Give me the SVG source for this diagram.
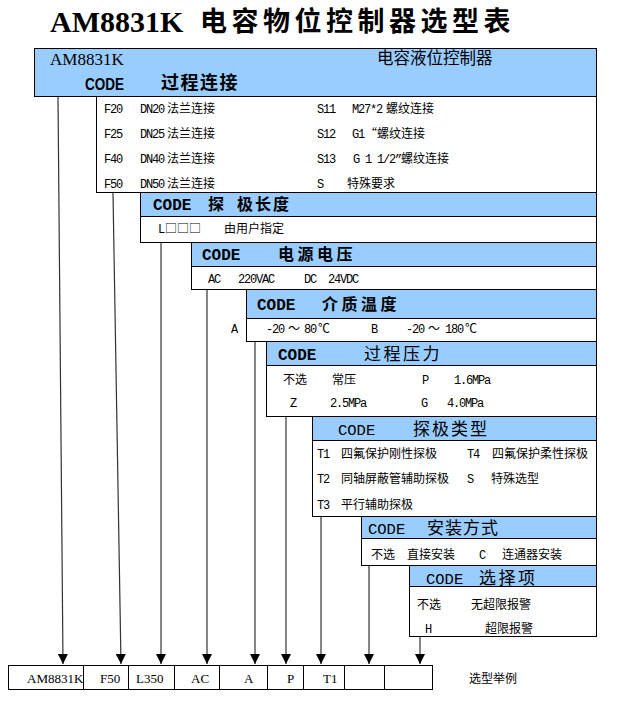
<svg xmlns="http://www.w3.org/2000/svg" width="622" height="711" viewBox="0 0 622 711">
<defs>
<style>
.hdr{fill:#99CCFF;stroke:#000;stroke-width:1}
.opt{fill:#fff;stroke:#000;stroke-width:1}
.m{font-family:"Liberation Mono",monospace;font-size:12px;letter-spacing:-1.2px;fill:#000}
.c{font-family:"Noto Sans CJK SC",sans-serif;font-size:12px;fill:#000}
.cb{font-family:"Noto Sans CJK SC",sans-serif;font-size:16px;font-weight:bold;fill:#000}
.cn{font-family:"Noto Sans CJK SC",sans-serif;font-size:17px;fill:#000}
.code{font-family:"Liberation Mono",monospace;font-size:16px;font-weight:bold;fill:#000}
.coden{font-family:"Liberation Mono",monospace;font-size:15.5px;fill:#000}
.s{font-family:"Liberation Serif",serif;font-size:13px;fill:#000}
.ln{stroke:#333;stroke-width:1.2;fill:none;marker-end:url(#ah)}
.cell{fill:#fff;stroke:#000;stroke-width:1}
</style>
<marker id="ah" markerUnits="userSpaceOnUse" markerWidth="10" markerHeight="10" refX="10" refY="5" orient="auto">
<path d="M0,0 L10,5 L0,10 z" fill="#000"/>
</marker>
</defs>
<rect width="622" height="711" fill="#fff"/>

<g id="title">
<text x="50" y="32" font-family="Liberation Serif,serif" font-size="30" font-weight="bold">AM8831K</text>
<text x="200" y="31" font-family="Noto Sans CJK SC,sans-serif" font-size="27" font-weight="bold" letter-spacing="4.5">电容物位控制器选型表</text>
</g>

<g id="connectors">
<line class="ln" x1="58" y1="97" x2="63" y2="664"/>
<line class="ln" x1="113" y1="193" x2="121" y2="664"/>
<line class="ln" x1="161" y1="243" x2="161" y2="664"/>
<line class="ln" x1="207" y1="290" x2="207" y2="664"/>
<line class="ln" x1="255" y1="342" x2="255" y2="664"/>
<line class="ln" x1="286" y1="417" x2="286" y2="664"/>
<line class="ln" x1="321" y1="517" x2="321" y2="664"/>
<line class="ln" x1="369" y1="566" x2="369" y2="664"/>
<line class="ln" x1="420" y1="637" x2="420" y2="664"/>
</g>

<g id="box1">
<rect class="hdr" x="34.5" y="48.5" width="562" height="48"/>
<text x="50" y="65" font-family="Liberation Serif,serif" font-size="17">AM8831K</text>
<text x="377" y="64" font-family="Noto Sans CJK SC,sans-serif" font-size="16.5">电容液位控制器</text>
<text x="85" y="90" font-family="Liberation Sans,sans-serif" font-size="17" font-weight="bold" textLength="39" lengthAdjust="spacingAndGlyphs">CODE</text>
<text x="161" y="89" font-family="Noto Sans CJK SC,sans-serif" font-size="18" font-weight="bold" letter-spacing="1.5">过程连接</text>
<rect class="opt" x="96.5" y="96.5" width="500" height="96"/>
<text class="m" x="104" y="113">F20</text><text class="m" x="140" y="113">DN20</text><text class="c" x="167" y="113">法兰连接</text>
<text class="m" x="104" y="138">F25</text><text class="m" x="140" y="138">DN25</text><text class="c" x="167" y="138">法兰连接</text>
<text class="m" x="104" y="163">F40</text><text class="m" x="140" y="163">DN40</text><text class="c" x="167" y="163">法兰连接</text>
<text class="m" x="104" y="188">F50</text><text class="m" x="140" y="188">DN50</text><text class="c" x="167" y="188">法兰连接</text>
<text class="m" x="317" y="113">S11</text><text class="m" x="352" y="113">M27*2</text><text class="c" x="386" y="113">螺纹连接</text>
<text class="m" x="317" y="138">S12</text><text class="m" x="352" y="138">G1</text><text class="c" x="365" y="138">“螺纹连接</text>
<text class="m" x="317" y="163">S13</text><text class="m" x="353" y="163">G 1 1/2”</text><text class="c" x="401" y="163">螺纹连接</text>
<text class="m" x="317" y="188">S</text><text class="c" x="347" y="188">特殊要求</text>
</g>

<g id="box2">
<rect class="hdr" x="140.5" y="192.5" width="456" height="24"/>
<text class="code" x="153" y="210">CODE</text>
<text class="cb" x="208" y="210">探</text>
<text class="cb" x="237" y="210" letter-spacing="2">极长度</text>
<rect class="opt" x="140.5" y="216.5" width="456" height="26"/>
<text class="m" x="158" y="233">L</text><text class="c" x="165" y="233" font-size="11">□□□</text>
<text class="c" x="224" y="233">由用户指定</text>
</g>

<g id="box3">
<rect class="hdr" x="191.5" y="242.5" width="405" height="24"/>
<text class="code" x="202" y="260">CODE</text>
<text class="cb" x="278" y="260" letter-spacing="3.5">电源电压</text>
<rect class="opt" x="191.5" y="266.5" width="405" height="23"/>
<text class="m" x="208" y="283">AC</text><text class="m" x="238" y="283">220VAC</text>
<text class="m" x="304" y="283">DC</text><text class="m" x="328" y="283">24VDC</text>
</g>

<g id="box4">
<rect class="hdr" x="246.5" y="289.5" width="350" height="29"/>
<text class="code" x="257" y="310">CODE</text>
<text class="cb" x="322" y="310" letter-spacing="3.5">介质温度</text>
<rect class="opt" x="246.5" y="318.5" width="350" height="23"/>
<text class="m" x="231" y="333">A</text>
<text class="m" x="266" y="333">-20</text><text class="c" x="288" y="333">～</text><text class="m" x="304" y="333">80</text><text class="c" x="318" y="333">℃</text>
<text class="m" x="371" y="333">B</text>
<text class="m" x="406" y="333">-20</text><text class="c" x="428" y="333">～</text><text class="m" x="445" y="333">180</text><text class="c" x="465" y="333">℃</text>
</g>

<g id="box5">
<rect class="hdr" x="266.5" y="341.5" width="330" height="24"/>
<text class="code" x="278" y="360">CODE</text>
<text class="cn" x="364" y="360" letter-spacing="2.5">过程压力</text>
<rect class="opt" x="266.5" y="365.5" width="330" height="51"/>
<text class="c" x="283" y="384">不选</text><text class="c" x="332" y="384">常压</text>
<text class="m" x="422" y="384">P</text><text class="m" x="454" y="384">1.6MPa</text>
<text class="m" x="290" y="407">Z</text><text class="m" x="330" y="407">2.5MPa</text>
<text class="m" x="421" y="407">G</text><text class="m" x="447" y="407">4.0MPa</text>
</g>

<g id="box6">
<rect class="hdr" x="312.5" y="416.5" width="284" height="24"/>
<text class="coden" x="338" y="435">CODE</text>
<text class="cn" x="413" y="435" letter-spacing="2">探极类型</text>
<rect class="opt" x="312.5" y="440.5" width="284" height="76"/>
<text class="m" x="317" y="458">T1</text><text class="c" x="341" y="458">四氟保护刚性探极</text>
<text class="m" x="467" y="458">T4</text><text class="c" x="492" y="458">四氟保护柔性探极</text>
<text class="m" x="317" y="483">T2</text><text class="c" x="341" y="483">同轴屏蔽管辅助探极</text>
<text class="m" x="467" y="483">S</text><text class="c" x="491" y="483">特殊选型</text>
<text class="m" x="317" y="509">T3</text><text class="c" x="341" y="509">平行辅助探极</text>
</g>

<g id="box7">
<rect class="hdr" x="361.5" y="516.5" width="235" height="22"/>
<text class="coden" x="368" y="534" font-size="14">CODE</text>
<text class="cn" x="427" y="534" font-size="16" letter-spacing="1">安装方式</text>
<rect class="opt" x="361.5" y="538.5" width="235" height="27"/>
<text class="c" x="371" y="559">不选</text><text class="c" x="407" y="559">直接安装</text>
<text class="m" x="479" y="559">C</text><text class="c" x="502" y="559">连通器安装</text>
</g>

<g id="box8">
<rect class="hdr" x="409.5" y="565.5" width="187" height="21"/>
<text class="coden" x="426" y="584">CODE</text>
<text class="cn" x="479" y="584" letter-spacing="2.5">选择项</text>
<rect class="opt" x="409.5" y="586.5" width="187" height="50"/>
<text class="c" x="417" y="609">不选</text><text class="c" x="471" y="609">无超限报警</text>
<text class="m" x="425" y="633">H</text><text class="c" x="485" y="633">超限报警</text>
</g>

<g id="example">
<rect class="cell" x="8.5" y="665.5" width="424" height="24"/>
<path d="M83.5,665 V690 M128.5,665 V690 M174.5,665 V690 M219.5,665 V690 M267.5,665 V690 M303.5,665 V690 M344.5,665 V690 M384.5,665 V690" stroke="#000" stroke-width="1"/>
<text class="s" x="27" y="683">AM8831K</text>
<text class="s" x="100" y="683">F50</text>
<text class="s" x="136" y="683">L350</text>
<text class="s" x="191" y="683">AC</text>
<text class="s" x="244" y="683">A</text>
<text class="s" x="287" y="683">P</text>
<text class="s" x="323" y="683">T1</text>
<text class="c" x="469" y="683">选型举例</text>
</g>
</svg>
